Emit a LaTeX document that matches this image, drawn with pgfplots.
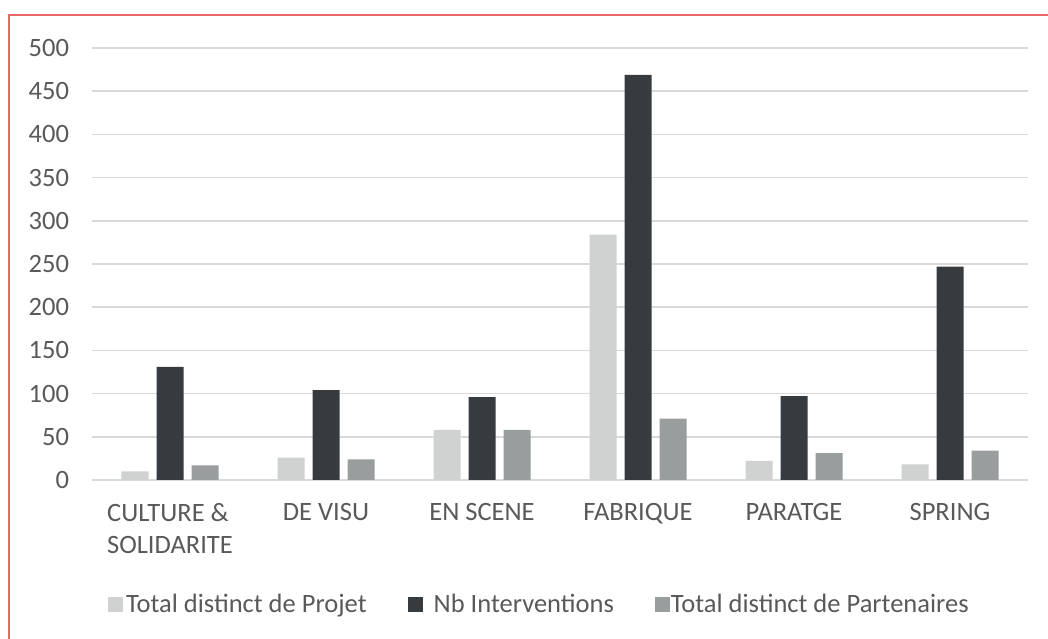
\documentclass[border=0pt]{standalone}
\usepackage{pgfplots}
\pgfplotsset{compat=1.18}
\usepackage{fontspec}
\setmainfont{Carlito}
\definecolor{cProj}{HTML}{D0D2D1}
\definecolor{cNb}{HTML}{373B3E}
\definecolor{cPart}{HTML}{999D9D}
\definecolor{cTxt}{HTML}{595959}
\definecolor{cGrid}{HTML}{D9D9D9}
\definecolor{cBorder}{HTML}{E8696B}
\begin{document}
\fontsize{26.5bp}{32bp}\selectfont
\begin{tikzpicture}
\path[use as bounding box] (0,0) rectangle (1048bp,639bp);
\draw[cBorder, line width=2bp] (9bp,-2bp) -- (9bp,624bp) -- (1050bp,624bp);
\begin{axis}[
  at={(92bp,159bp)}, anchor=south west,
  scale only axis, width=936bp, height=432bp,
  xmin=-0.5, xmax=5.5, ymin=0, ymax=500,
  ytick={0,50,...,500},
  xtick={0,1,2,3,4,5},
  xticklabels={{CULTURE \&\\SOLIDARITE},{DE VISU},{EN SCENE},{FABRIQUE},{PARATGE},{SPRING}},
  xticklabel style={align=left, anchor=north, yshift=-14bp},
  yticklabel style={anchor=east, xshift=-14bp},
  /pgf/number format/assume math mode=true,
  tick label style={font=\fontsize{26.5bp}{32bp}\selectfont, text=cTxt},
  major tick length=0pt,
  axis line style={draw=none},
  ymajorgrids, grid style={cGrid, line width=1.6bp},
  ybar, bar width=27bp,
  legend style={at={(0.478,-0.289)}, anchor=center, draw=none, fill=none,
    font=\fontsize{26.5bp}{30bp}\selectfont, text=cTxt,
    legend columns=-1,
    /tikz/every even column/.append style={column sep=39bp},
    nodes={inner sep=2bp}},
  legend image code/.code={\fill[#1] (0bp,-7.5bp) rectangle (15bp,7.5bp); \path (16bp,0bp);},
  clip=false,
]
\addplot[fill=cProj, draw=none, bar shift=-35bp] coordinates {(0,10) (1,26) (2,58) (3,284) (4,22) (5,18)};
\addplot[fill=cNb, draw=none, bar shift=0bp] coordinates {(0,131) (1,104) (2,96) (3,469) (4,97) (5,247)};
\addplot[fill=cPart, draw=none, bar shift=35bp] coordinates {(0,17) (1,24) (2,58) (3,71) (4,31) (5,34)};
\legend{Total distinct de Projet, \hspace{8bp}Nb Interventions, \hspace{-2bp}Total distinct de Partenaires}
\end{axis}
\end{tikzpicture}
\end{document}
